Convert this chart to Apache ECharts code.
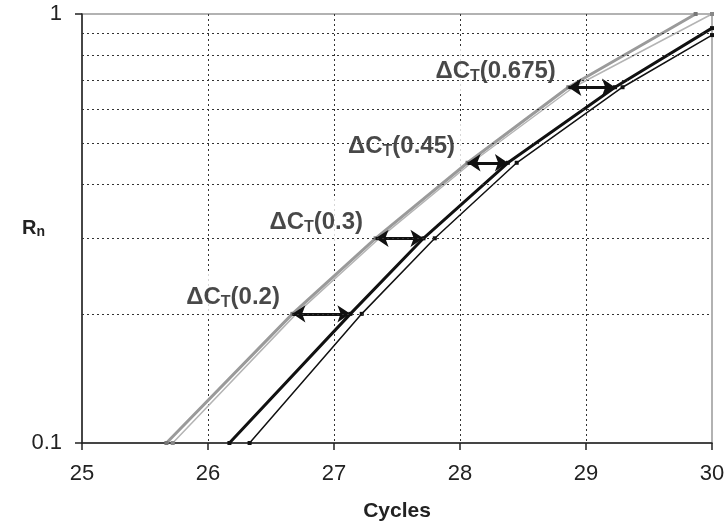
<!DOCTYPE html>
<html>
<head>
<meta charset="utf-8">
<script src="https://cdn.jsdelivr.net/npm/echarts@6/dist/echarts.min.js"></script>
<style>
html, body { margin: 0; padding: 0; background: #fff; }
#chart { width: 726px; height: 523px; }
</style>
</head>
<body>
<div id="chart"></div>
<script>
// Rn levels where the curves were read (last point = where the curve leaves the plot)
const grayAY = [0.1, 0.2, 0.3, 0.45, 0.675, 1.0]
const grayBY = [0.1, 0.2, 0.3, 0.45, 0.675, 1.0]
const blackAY = [0.1, 0.2, 0.3, 0.45, 0.675, 0.927]
const blackBY = [0.1, 0.2, 0.3, 0.45, 0.675, 0.893]

// cycle values at those levels
const grayAX = [25.67, 26.67, 27.33, 28.06, 28.86, 29.87]
const grayBX = [25.72, 26.70, 27.36, 28.09, 28.90, 30.0]
const blackAX = [26.17, 27.13, 27.71, 28.38, 29.23, 30.0]
const blackBX = [26.33, 27.22, 27.80, 28.45, 29.29, 30.0]

// delta Ct thresholds (index into the arrays above) and their labels
const ctIndex = [1, 2, 3, 4]
const ctLabels = ['0.2', '0.3', '0.45', '0.675']

// dotted horizontal grid levels and x ticks
const gridLevels = [0.2, 0.3, 0.4, 0.5, 0.6, 0.7, 0.8, 0.9]
const xTicks = [25, 26, 27, 28, 29, 30]

const font = 'Liberation Sans, Arial, sans-serif'
const dotted = { type: [2, 3], color: '#333', width: 1 }

function pairs (xs, ys) {
  return xs.map((x, i) => [x, ys[i]])
}

function curve (name, xs, ys, color, width, dot) {
  return {
    name: name,
    type: 'line',
    data: pairs(xs, ys),
    symbol: 'rect',
    symbolSize: 4,
    showSymbol: true,
    lineStyle: { color: color, width: width },
    itemStyle: { color: dot },
    z: 3
  }
}

let chart = echarts.init(document.getElementById('chart'))
chart.setOption({
  animation: false,
  backgroundColor: '#fff',
  grid: {
    left: 82,
    right: 14,
    top: 14,
    bottom: 80,
    containLabel: false,
    outerBoundsMode: 'none',
    show: true,
    borderColor: '#999',
    borderWidth: 1.5
  },
  xAxis: {
    type: 'value',
    min: xTicks[0],
    max: xTicks[xTicks.length - 1],
    interval: 1,
    name: 'Cycles',
    nameLocation: 'middle',
    nameGap: 58,
    nameTextStyle: { fontFamily: font, fontSize: 21, fontWeight: 'bold', color: '#222' },
    axisLine: { show: true, onZero: false, lineStyle: { color: '#222', width: 1.5 } },
    axisTick: { show: true, length: 7, lineStyle: { color: '#222', width: 1.5 } },
    axisLabel: { margin: 20, fontFamily: font, fontSize: 22, color: '#222' },
    splitLine: { show: true, showMinLine: false, showMaxLine: false, lineStyle: dotted }
  },
  yAxis: {
    type: 'log',
    logBase: 10,
    min: 0.1,
    max: 1,
    name: '{a|R}{b|n}',
    nameLocation: 'middle',
    nameRotate: 0,
    nameGap: 37,
    nameMoveOverlap: false,
    nameTextStyle: {
      rich: {
        a: { fontFamily: font, fontSize: 20, fontWeight: 'bold', color: '#222', lineHeight: 22 },
        b: { fontFamily: font, fontSize: 14, fontWeight: 'bold', color: '#222', lineHeight: 12, verticalAlign: 'bottom' }
      }
    },
    axisLine: { show: true, lineStyle: { color: '#222', width: 1.5 } },
    axisTick: { show: true, length: 7, lineStyle: { color: '#222', width: 1.5 } },
    axisLabel: { margin: 20, fontFamily: font, fontSize: 22, color: '#222' },
    splitLine: { show: false }
  },
  series: [
    {
      name: 'grid',
      type: 'line',
      data: [],
      silent: true,
      z: 1,
      markLine: {
        silent: true,
        symbol: 'none',
        label: { show: false },
        lineStyle: dotted,
        data: gridLevels.map(v => ({ yAxis: v }))
      }
    },
    {
      name: 'labels',
      type: 'scatter',
      data: ctIndex.map(i => [grayAX[i], grayAY[i]]),
      symbolSize: 1,
      itemStyle: { color: 'rgba(0,0,0,0)' },
      silent: true,
      z: 2,
      label: {
        show: true,
        position: 'left',
        distance: 6,
        offset: [0, -18],
        backgroundColor: '#fff',
        padding: [12, 6, 8, 6],
        formatter: p => '{a|ΔC}{b|T}{a|(' + ctLabels[p.dataIndex] + ')}',
        rich: {
          a: { fontFamily: font, fontSize: 24, fontWeight: 'bold', color: '#1a1a1a', lineHeight: 26 },
          b: { fontFamily: font, fontSize: 16, fontWeight: 'bold', color: '#1a1a1a', lineHeight: 12, verticalAlign: 'bottom' }
        }
      }
    },
    curve('grayA', grayAX, grayAY, '#9a9a9a', 3, '#777'),
    curve('grayB', grayBX, grayBY, '#b4b4b4', 1.5, '#888'),
    curve('blackA', blackAX, blackAY, '#111', 3, '#111'),
    curve('blackB', blackBX, blackBY, '#111', 1.5, '#111'),
    {
      name: 'arrows',
      type: 'lines',
      coordinateSystem: 'cartesian2d',
      data: ctIndex.map(i => ({ coords: [[grayAX[i], grayAY[i]], [blackAX[i], blackAY[i]]] })),
      symbol: ['arrow', 'arrow'],
      symbolSize: 13,
      lineStyle: { color: '#111', width: 3, opacity: 1, curveness: 0 },
      z: 4
    }
  ]
})
</script>
</body>
</html>
